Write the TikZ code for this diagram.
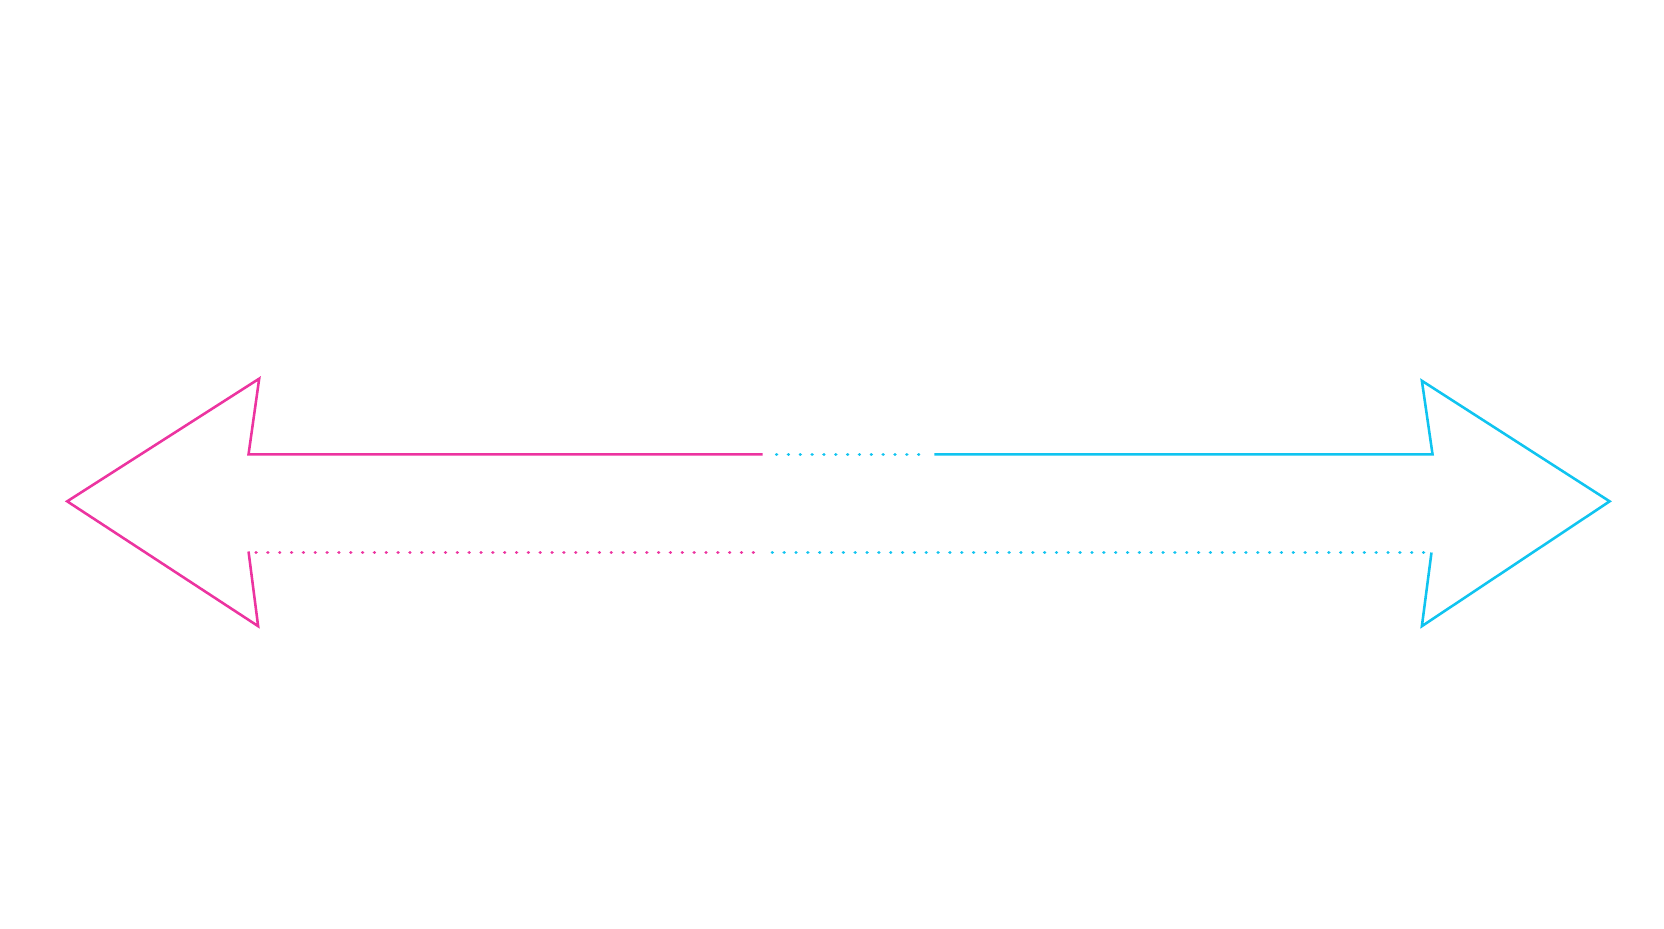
\documentclass[tikz,border=0pt]{standalone}
\begin{document}
\begin{tikzpicture}[x=1pt,y=-1pt,
  mag/.style={draw={rgb,255:red,236;green,52;blue,160},line width=2.4pt,line join=miter},
  cya/.style={draw={rgb,255:red,16;green,196;blue,240},line width=2.4pt,line join=miter},
  dots/.style={line width=3.2pt,line cap=round,dash pattern=on 0.1pt off 11pt}]
\useasboundingbox (0,0) rectangle (1560,870);
\coordinate (lt) at (63,470);
\coordinate (rt) at (1509,470);
\draw[mag] (233,517) -- (242,587) -- (lt) -- (243,355) -- (233,426) -- (715,426);
\draw[cya] (876,426) -- (1343,426) -- (1333,357) -- (rt) -- (1333,587) -- (1342,518);
\draw[cya,dots] (728,426) -- (862,426);
\draw[mag,dots] (240,518) -- (715,518);
\draw[cya,dots] (724,518) -- (1340,518);
\end{tikzpicture}
\end{document}
